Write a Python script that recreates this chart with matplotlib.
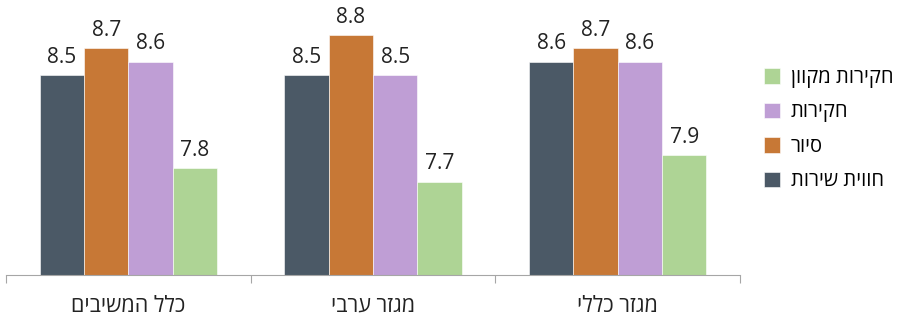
import matplotlib.pyplot as plt
import numpy as np

plt.rcParams['font.family'] = ['Open Sans', 'DejaVu Sans']

# קבוצות (משמאל לימין כפי שמוצג)
groups = ["כלל המשיבים", "מגזר ערבי", "מגזר כללי"]
series = ["חווית שירות", "סיור", "חקירות", "חקירות מקוון"]
colors = ["#4b5966", "#c77836", "#bf9ed5", "#aed495"]

service = [8.5, 8.5, 8.6]
tour = [8.7, 8.8, 8.7]
investigations = [8.6, 8.5, 8.6]
online = [7.8, 7.7, 7.9]
values = [service, tour, investigations, online]


def rtl(s):
    # matplotlib לא מטפל בכיוון ימין-לשמאל
    return s[::-1]


fig = plt.figure(figsize=(8.98, 3.2), dpi=100)
ax = fig.add_axes([0.0067, 0.1406, 0.8175, 0.8333])

x = np.arange(len(groups))
w = 0.181
for i, vals in enumerate(values):
    pos = x + (i - 1.5) * w
    bars = ax.bar(pos, vals, width=w, color=colors[i], label=rtl(series[i]),
                  edgecolor='white', linewidth=0.4)
    for b, v in zip(bars, vals):
        ax.text(b.get_x() + b.get_width() / 2, v + 0.055, f"{v:.1f}",
                ha='center', va='bottom', fontsize=15, color='#222222')

ax.set_xlim(-0.5, len(groups) - 0.5)
ax.set_ylim(7.0, 9.0)

for s in ['top', 'right', 'left']:
    ax.spines[s].set_visible(False)
ax.spines['bottom'].set_color('#a6a6a6')
ax.set_yticks([])

ax.set_xticks(np.arange(len(groups) + 1) - 0.5)
ax.set_xticklabels([])
ax.tick_params(axis='x', which='major', length=6, color='#a6a6a6', direction='out')
ax.set_xticks(x, minor=True)
ax.set_xticklabels([rtl(g) for g in groups], minor=True, fontsize=15.5, color='#222222')
ax.tick_params(axis='x', which='minor', length=0, pad=15)

h, l = ax.get_legend_handles_labels()
fig.legend(h[::-1], l[::-1], loc='center left', bbox_to_anchor=(0.831, 0.595),
           frameon=False, fontsize=14.5, handlelength=0.8, handleheight=0.8,
           labelspacing=0.72, handletextpad=0.5)

fig.savefig('out.png', dpi=100)
